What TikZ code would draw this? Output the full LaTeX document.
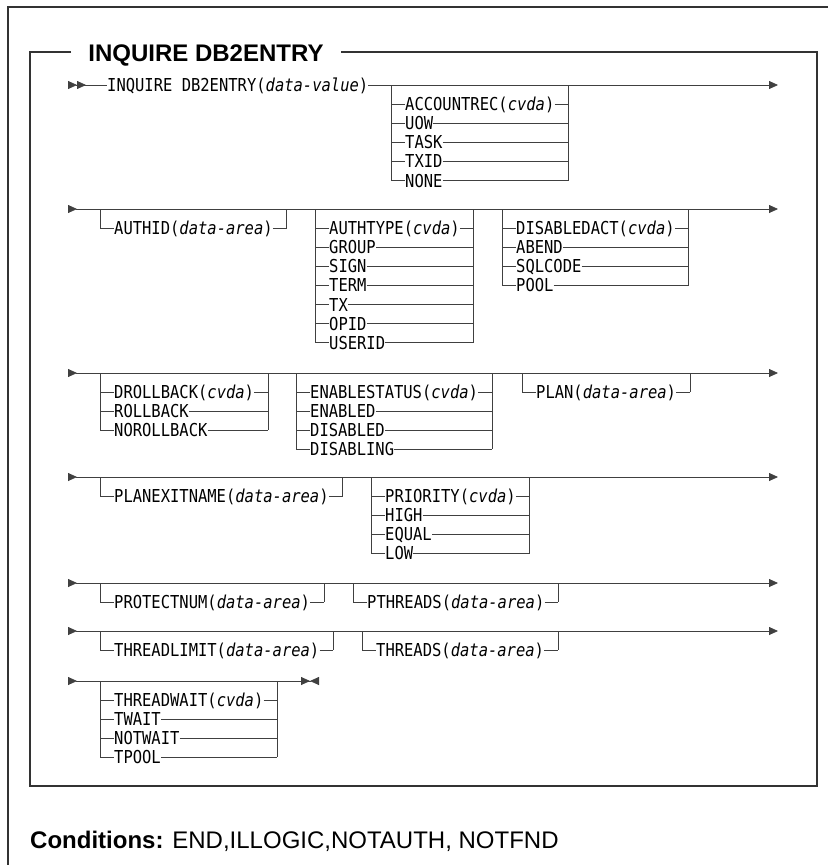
\documentclass[tikz,border=0pt]{standalone}
\usepackage{fontspec}
\setmainfont{Liberation Sans}
\setmonofont{DejaVu Sans Mono}[FakeStretch=0.87]
\usetikzlibrary{arrows.meta,positioning}
\def\railcell{9.33}
\def\railstep{19.1}
\tikzset{
    % Frames round the page and the syntax box
    frame/.style={
        draw=black!80,
        line width=1.5pt
    },
    title/.style={
        font=\bfseries\fontsize{24}{28}\selectfont,
        inner xsep=17pt,
        inner ysep=0pt,
        anchor=base
    },
    % Railroad lines
    railtip/.tip={Triangle[length=9pt,width=8pt]},
    rail/.style={
        draw=black!75,
        line width=0.8pt
    },
    rail start/.style={
        rail,
        {railtip[reversed]}-railtip
    },
    keyword/.style={
        font=\ttfamily\fontsize{17.8}{20}\selectfont,
        inner sep=0pt,
        text height=13pt,
        text depth=0pt,
        anchor=west
    },
    conditions/.style={
        font=\fontsize{24}{28}\selectfont,
        inner sep=0pt,
        anchor=base west
    }
}
% Stack of options hanging under a main line
% #1 name, #2 left x, #3 main line y, #4 widest option in characters, #5 options
\newcommand{\railbranch}[5]{%
    \coordinate (#1l) at (#2,#3);
    \coordinate (#1r) at ({#2+(#4+3)*\railcell},#3);
    \foreach \opt [count=\i] in {#5} {
        \node[keyword] (#1\i) at ({#2+1.5*\railcell},{#3+\railstep*\i}) {\opt};
        \draw[rail] (#1\i.west -| #1l) -- (#1\i.west) (#1\i.east) -- (#1\i.east -| #1r);
        \xdef\raillast{\i}
    }
    \draw[rail] (#1l) -- (#1l |- #1\raillast.west) (#1r) -- (#1r |- #1\raillast.east);
}
\begin{document}
\begin{tikzpicture}[x=1pt, y=-1pt]
    \useasboundingbox (0,0) rectangle (828,865);

    % Page frame, only its top and left edges are in view
    \coordinate (pagebl) at (8,865);
    \coordinate (pagetl) at (8,7);
    \coordinate (pagetr) at (828,7);
    \draw[frame] (pagebl) -- (pagetl) -- (pagetr);

    % Syntax box
    \node[title] (title) at (206,61) {INQUIRE DB2ENTRY};
    \coordinate (boxtl) at (30,52);
    \coordinate (boxbr) at (817,786);
    \draw[frame] (boxtl -| title.west) -- (boxtl) |- (boxbr) |- (title.east |- boxtl);

    % Line 1
    \node[keyword] (inquire) at (107,85) {INQUIRE DB2ENTRY(\textit{data-value})};
    \coordinate (r1s) at (68,85);
    \coordinate (r1e) at (778,85);
    \draw[rail, {railtip[reversed]railtip[reversed]}-] (r1s) -- (inquire);
    \draw[rail, -railtip] (inquire) -- (r1e);
    \railbranch{acct}{391}{85}{16}{ACCOUNTREC(\textit{cvda}),UOW,TASK,TXID,NONE}

    % Line 2
    \coordinate (r2s) at (68,209);
    \coordinate (r2e) at (778,209);
    \draw[rail start] (r2s) -- (r2e);
    \railbranch{authid}{100}{209}{17}{AUTHID(\textit{data-area})}
    \railbranch{authtype}{315}{209}{14}{AUTHTYPE(\textit{cvda}),GROUP,SIGN,TERM,TX,OPID,USERID}
    \railbranch{disact}{502}{209}{17}{DISABLEDACT(\textit{cvda}),ABEND,SQLCODE,POOL}

    % Line 3
    \coordinate (r3s) at (68,373);
    \coordinate (r3e) at (778,373);
    \draw[rail start] (r3s) -- (r3e);
    \railbranch{droll}{100}{373}{15}{DROLLBACK(\textit{cvda}),ROLLBACK,NOROLLBACK}
    \railbranch{enab}{296}{373}{18}{ENABLESTATUS(\textit{cvda}),ENABLED,DISABLED,DISABLING}
    \railbranch{plan}{522}{373}{15}{PLAN(\textit{data-area})}

    % Line 4
    \coordinate (r4s) at (68,477);
    \coordinate (r4e) at (778,477);
    \draw[rail start] (r4s) -- (r4e);
    \railbranch{planexit}{100}{477}{23}{PLANEXITNAME(\textit{data-area})}
    \railbranch{prio}{371}{477}{14}{PRIORITY(\textit{cvda}),HIGH,EQUAL,LOW}

    % Line 5
    \coordinate (r5s) at (68,583);
    \coordinate (r5e) at (778,583);
    \draw[rail start] (r5s) -- (r5e);
    \railbranch{protect}{100}{583}{21}{PROTECTNUM(\textit{data-area})}
    \railbranch{pthr}{353}{583}{19}{PTHREADS(\textit{data-area})}

    % Line 6
    \coordinate (r6s) at (68,631);
    \coordinate (r6e) at (778,631);
    \draw[rail start] (r6s) -- (r6e);
    \railbranch{thrlim}{100}{631}{22}{THREADLIMIT(\textit{data-area})}
    \railbranch{thr}{362}{631}{18}{THREADS(\textit{data-area})}

    % Line 7, end of statement
    \coordinate (r7s) at (68,681);
    \coordinate (r7e) at (319,681);
    \draw[rail, {railtip[reversed]}-{railtip[]railtip[reversed]}] (r7s) -- (r7e);
    \railbranch{twait}{100}{681}{16}{THREADWAIT(\textit{cvda}),TWAIT,NOTWAIT,TPOOL}

    % Conditions
    \node[conditions] (cond) at (30,848) {\textbf{Conditions:} END,ILLOGIC,NOTAUTH, NOTFND};
\end{tikzpicture}
\end{document}
